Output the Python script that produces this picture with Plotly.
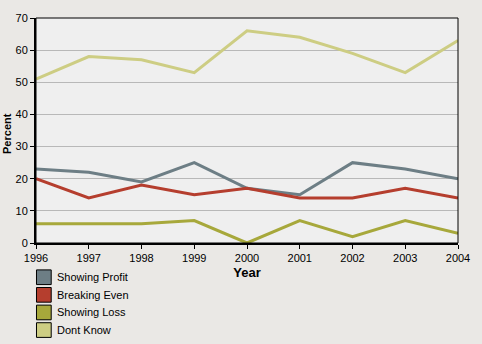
import plotly.graph_objects as go

years = [1996, 1997, 1998, 1999, 2000, 2001, 2002, 2003, 2004]
showing_profit = [23, 22, 19, 25, 17, 15, 25, 23, 20]
breaking_even = [20, 14, 18, 15, 17, 14, 14, 17, 14]
showing_loss = [6, 6, 6, 7, 0, 7, 2, 7, 3]
dont_know = [51, 58, 57, 53, 66, 64, 59, 53, 63]

series = [
    ("Showing Profit", showing_profit, "#6d7e85"),
    ("Breaking Even", breaking_even, "#b53e2e"),
    ("Showing Loss", showing_loss, "#a7a83b"),
    ("Dont Know", dont_know, "#cdcd83"),
]

W, H = 482, 344
L, R, T, B = 36, 16, 13, 101
pw, ph = W - L - R, H - T - B

def px_x(x):
    return (x - L) / pw

def px_y(y):
    return (H - B - y) / ph

font = "Liberation Sans, Arial, sans-serif"
fig = go.Figure()
for name, vals, col in series:
    fig.add_trace(go.Scatter(x=years, y=vals, mode="lines", name=name,
                             line=dict(color=col, width=3), showlegend=False))

shapes = [dict(type="rect", xref="paper", yref="paper", x0=0, x1=1, y0=0, y1=1,
               line=dict(color="black", width=1), layer="above")]
annotations = [dict(text="<b>Percent</b>", xref="paper", yref="paper",
                    x=px_x(7), y=px_y(131), xanchor="center", yanchor="middle",
                    textangle=-90, showarrow=False, font=dict(size=11))]
for i, (name, vals, col) in enumerate(series):
    top = 270.5 + 18 * i
    shapes.append(dict(type="rect", xref="paper", yref="paper",
                       x0=px_x(36.5), x1=px_x(51.5), y0=px_y(top), y1=px_y(top + 15),
                       fillcolor=col, line=dict(color="black", width=1)))
    annotations.append(dict(text=name, xref="paper", yref="paper", x=px_x(55),
                            y=px_y(top + 7.5), xanchor="left", yanchor="middle",
                            showarrow=False, font=dict(size=11)))

fig.update_layout(
    width=W, height=H,
    margin=dict(l=L, r=R, t=T, b=B),
    paper_bgcolor="#eae8e5", plot_bgcolor="#efefef",
    font=dict(family=font, size=11, color="black"),
    showlegend=False,
    xaxis=dict(range=[1996, 2004], tickmode="array", tickvals=years,
               ticktext=[str(y) for y in years], showgrid=False,
               showline=True, linecolor="black", linewidth=2,
               ticks="outside", ticklen=4, tickcolor="black",
               title=dict(text="<b>Year</b>", standoff=5), zeroline=False),
    yaxis=dict(range=[0, 70], dtick=10, showgrid=True, gridcolor="#b8b8b8",
               gridwidth=1, showline=True, linecolor="black", linewidth=2,
               ticks="outside", ticklen=4, tickcolor="black",
               zeroline=False),
    shapes=shapes,
    annotations=annotations,
)
fig.write_html("out.html")
